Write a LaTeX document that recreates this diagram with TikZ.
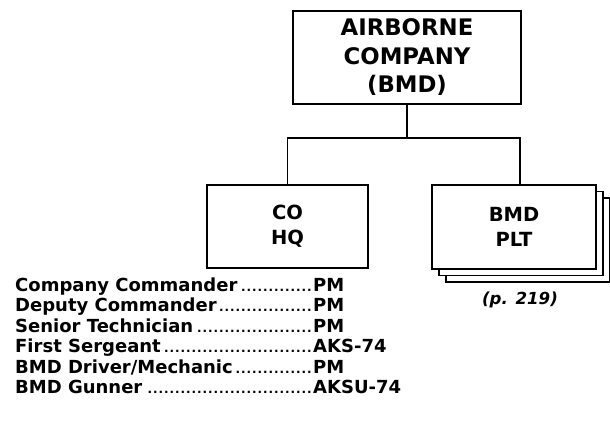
\documentclass[tikz,border=0pt]{standalone}
\usepackage{fontspec}
\setmainfont{DejaVu Sans}
\usepackage{tikz}
\usetikzlibrary{positioning,shadows}
\newcommand{\rosterline}[2]{\makebox[298pt][l]{#1\leaders\hbox to 5.5pt{\hss\fontsize{12}{12}\selectfont.\hss}\hfill}#2}
\tikzset{
  orgbox/.style={
    draw,
    line width=1.8pt,
    fill=white,
    align=center,
    inner sep=0pt,
    font=\bfseries\fontsize{19.5}{25}\selectfont
  },
  platoonbox/.style={orgbox,
    copy shadow={shadow xshift=14pt, shadow yshift=-13pt, fill=white, draw=black, line width=1.8pt},
    copy shadow={shadow xshift=7pt, shadow yshift=-6.5pt, fill=white, draw=black, line width=1.8pt}},
  link/.style={line width=1.8pt}
}

\begin{document}
\begin{tikzpicture}[x=1pt, y=1pt]
\useasboundingbox (0,0) rectangle (610,-430);
\node[orgbox, minimum width=228pt, minimum height=93pt, font=\bfseries\fontsize{22.8}{28.5}\selectfont] (company) at (407,-57.5) {AIRBORNE\\COMPANY\\(BMD)};
\node[orgbox, minimum width=161pt, minimum height=83pt] (cohq) at (287.5,-226.5) {CO\\HQ};
\node[platoonbox, minimum width=164pt, minimum height=84pt] (bmdplt) at (514,-227) {BMD\\PLT};
\coordinate[below=33pt of company] (bus);

\draw[link] (company) -- (bus);
\draw[link] (cohq) |- (bus) -| ([xshift=6pt]bmdplt.north);

\node[font=\bfseries\itshape\fontsize{16.6}{20}\selectfont] (pagenote) at (520,-300) {(p. 219)};
\node[anchor=north west, inner sep=0pt, align=left, font=\bfseries\fontsize{18}{20.5}\selectfont] (roster) at (15,-277.2) {%
\rosterline{Company Commander}{PM}\\
\rosterline{Deputy Commander}{PM}\\
\rosterline{Senior Technician}{PM}\\
\rosterline{First Sergeant}{AKS-74}\\
\rosterline{BMD Driver/Mechanic}{PM}\\
\rosterline{BMD Gunner}{AKSU-74}};
\end{tikzpicture}
\end{document}
